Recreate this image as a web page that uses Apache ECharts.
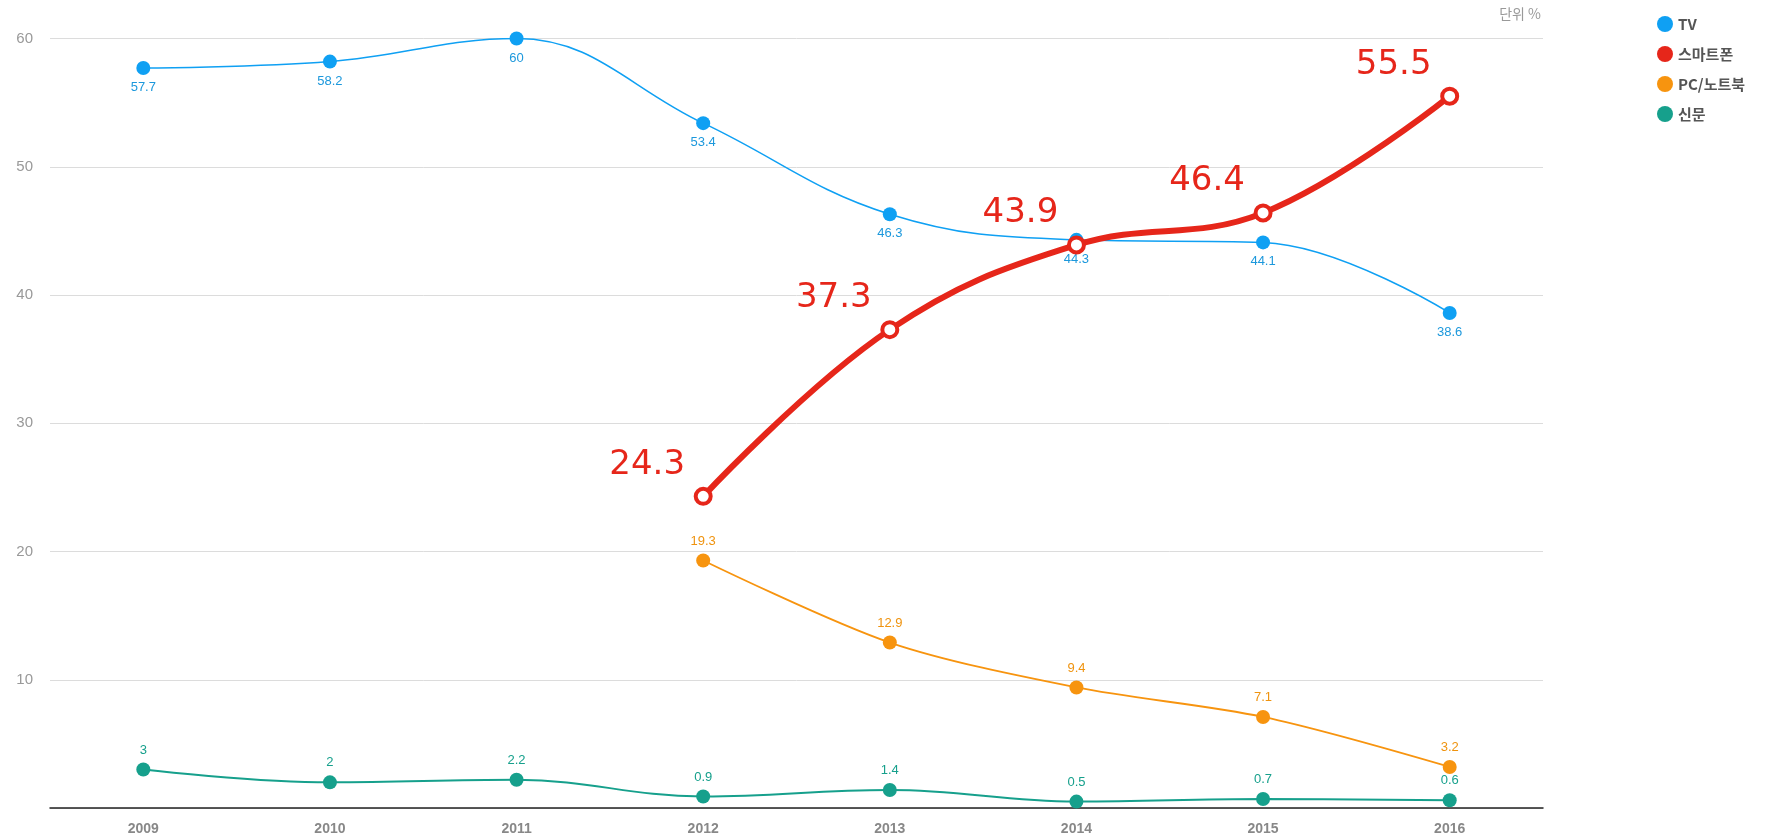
<!DOCTYPE html>
<html>
<head>
<meta charset="utf-8">
<script src="https://cdn.jsdelivr.net/npm/echarts@6/dist/echarts.min.js"></script>
<style>
html,body{margin:0;padding:0;background:#fff;}
#c{width:1775px;height:839px;}
</style>
</head>
<body>
<div id="c"></div>
<script>
const years = ['2009','2010','2011','2012','2013','2014','2015','2016'];
const tv = [57.7, 58.2, 60, 53.4, 46.3, 44.3, 44.1, 38.6];
const smartphone = [null, null, null, 24.3, 37.3, 43.9, 46.4, 55.5];
const pc = [null, null, null, 19.3, 12.9, 9.4, 7.1, 3.2];
const newspaper = [3, 2, 2.2, 0.9, 1.4, 0.5, 0.7, 0.6];
const seriesNames = ['TV', '스마트폰', 'PC/노트북', '신문'];
const unitText = '단위 %';

const chart = echarts.init(document.getElementById('c'));
const font = 'Noto Sans CJK KR, Noto Sans, sans-serif';
const numFont = 'Liberation Sans, Arial, sans-serif';
chart.setOption({
  backgroundColor: '#fff',
  animation: false,
  textStyle: { fontFamily: font },
  grid: { left: 50, right: 232, top: 38.5, bottom: 31 },
  legend: {
    orient: 'vertical',
    left: 1652,
    top: 11,
    icon: 'circle',
    itemWidth: 16,
    itemHeight: 16,
    itemGap: 14,
    textStyle: { color: '#555', fontSize: 15, fontWeight: 'bold', fontFamily: font },
    data: seriesNames.map(function(n, i){ return i === 1 ? { name: n, itemStyle: { color: '#e6261a', borderWidth: 0 } } : n; })
  },
  graphic: [{
    type: 'text',
    right: 1775 - 1541,
    top: 7,
    style: { text: unitText, fill: '#999', fontSize: 14, fontFamily: font }
  }],
  xAxis: {
    type: 'category',
    data: years,
    boundaryGap: true,
    axisLine: { lineStyle: { color: '#222', width: 1.5 } },
    axisTick: { show: false },
    axisLabel: { color: '#888', fontSize: 14, margin: 14, fontWeight: 'bold', fontFamily: numFont }
  },
  yAxis: {
    type: 'value',
    min: 0, max: 60, interval: 10,
    axisLine: { show: false },
    axisTick: { show: false },
    axisLabel: { color: '#999', fontSize: 15, margin: 17, showMinLabel: false, fontFamily: numFont },
    splitLine: { lineStyle: { color: '#dcdcdc', width: 1 } }
  },
  series: [
    {
      name: seriesNames[0], type: 'line', data: tv, smooth: 0.4,
      symbol: 'circle', symbolSize: 14,
      itemStyle: { color: '#0fa0f3' },
      lineStyle: { width: 1.5, color: '#0fa0f3' },
      label: { show: true, position: 'bottom', distance: 6, color: '#1c98dc', fontSize: 13, fontFamily: numFont },
      z: 2
    },
    {
      name: seriesNames[1], type: 'line', data: smartphone, smooth: 0.4,
      symbol: 'circle', symbolSize: 15,
      itemStyle: { color: '#fff', borderColor: '#e6261a', borderWidth: 4 },
      lineStyle: { width: 6, color: '#e6261a' },
      label: { show: true, position: 'top', offset: [-56, 0], color: '#e6261a', fontSize: 34, fontFamily: 'DejaVu Sans, sans-serif' },
      z: 5
    },
    {
      name: seriesNames[2], type: 'line', data: pc, smooth: 0.3,
      symbol: 'circle', symbolSize: 14,
      itemStyle: { color: '#f7940f' },
      lineStyle: { width: 1.8, color: '#f7940f' },
      label: { show: true, position: 'top', distance: 6, color: '#ef930f', fontSize: 13, fontFamily: numFont },
      z: 3
    },
    {
      name: seriesNames[3], type: 'line', data: newspaper, smooth: 0.4,
      symbol: 'circle', symbolSize: 14,
      itemStyle: { color: '#16a08c' },
      lineStyle: { width: 2, color: '#16a08c' },
      label: { show: true, position: 'top', distance: 6, color: '#16a08c', fontSize: 13, fontFamily: numFont },
      z: 3
    }
  ]
});
</script>
</body>
</html>
